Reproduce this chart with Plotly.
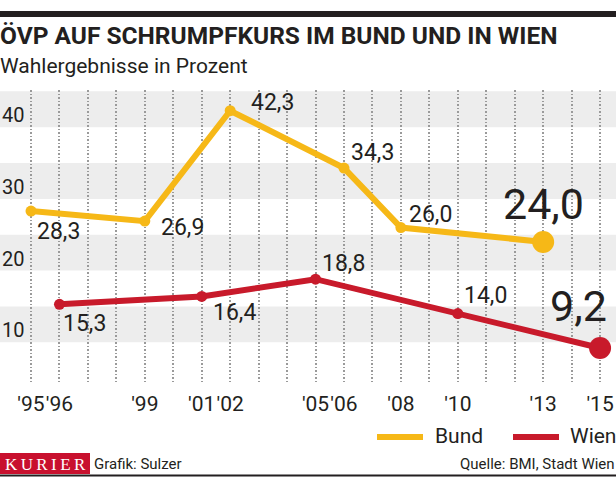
import plotly.graph_objects as go

# ---------------- data ----------------
bund_years = [1995, 1999, 2002, 2006, 2008, 2013]
bund_values = [28.3, 26.9, 42.3, 34.3, 26.0, 24.0]
wien_years = [1996, 2001, 2005, 2010, 2015]
wien_values = [15.3, 16.4, 18.8, 14.0, 9.2]
tick_years = [1995, 1996, 1999, 2001, 2002, 2005, 2006, 2008, 2010, 2013, 2015]
tick_labels = ["'95", "'96", "'99", "'01", "'02", "'05", "'06", "'08", "'10", "'13", "'15"]
y_ticks = [10, 20, 30, 40]
band_edges = [5, 10, 15, 20, 25, 30, 35, 40, 45]

title = "ÖVP AUF SCHRUMPFKURS IM BUND UND IN WIEN"
subtitle = "Wahlergebnisse in Prozent"
source = "Quelle: BMI, Stadt Wien"
credit = "Grafik: Sulzer"

# ---------------- style ----------------
W, H = 616, 477
PT, PB = 90, 382  # plot top/bottom in px
YELLOW = "#F6B817"
RED = "#C81A2B"
TXT = "#231F20"
BAND = "#EDEDED"
FONT = "Roboto, Liberation Sans, sans-serif"


def py(p):
    return (PB - p) / (PB - PT)


def pxx(p):
    return p / W


def fmt(v):
    return f"{v:.1f}".replace(".", ",")


fig = go.Figure()

for name, xs, ys, col in [("Bund", bund_years, bund_values, YELLOW),
                          ("Wien", wien_years, wien_values, RED)]:
    sizes = [11] * (len(xs) - 1) + [22]
    fig.add_trace(go.Scatter(x=xs, y=ys, mode="lines+markers", name=name,
                             line=dict(color=col, width=6),
                             marker=dict(color=col, size=sizes, opacity=1,
                                         line=dict(width=0)),
                             showlegend=False, hoverinfo="x+y"))

# grey bands
shapes = []
for i in range(0, len(band_edges) - 1):
    if i % 2 == 1:
        shapes.append(dict(type="rect", xref="paper", yref="y", x0=0, x1=1,
                           y0=band_edges[i], y1=band_edges[i + 1],
                           fillcolor=BAND, line=dict(width=0), layer="below"))

# top black bar & bottom line
shapes.append(dict(type="rect", xref="paper", yref="paper", x0=0, x1=1,
                   y0=py(17), y1=py(11), fillcolor=TXT, line=dict(width=0)))
shapes.append(dict(type="line", xref="paper", yref="paper", x0=0, x1=1,
                   y0=py(475.5), y1=py(475.5), line=dict(color=TXT, width=2)))
# KURIER box
shapes.append(dict(type="rect", xref="paper", yref="paper", x0=0, x1=pxx(90),
                   y0=py(474), y1=py(453), fillcolor="#C8102E", line=dict(width=0)))
# legend lines
for x0, x1, col in [(377, 423, YELLOW), (513, 559, RED)]:
    shapes.append(dict(type="line", xref="paper", yref="paper", x0=pxx(x0), x1=pxx(x1),
                       y0=py(437), y1=py(437), line=dict(color=col, width=6)))

annotations = []
annotations.append(dict(text=title, xref="paper", yref="paper", x=pxx(-2), y=py(35),
                        xanchor="left", yanchor="middle", showarrow=False,
                        font=dict(family=FONT, size=24.5, color=TXT, weight=700)))
annotations.append(dict(text=subtitle, xref="paper", yref="paper", x=pxx(-2), y=py(66),
                        xanchor="left", yanchor="middle", showarrow=False,
                        font=dict(family=FONT, size=21, color=TXT)))
# legend texts
for x, t in [(433, "Bund"), (568, "Wien")]:
    annotations.append(dict(text=t, xref="paper", yref="paper", x=pxx(x), y=py(436),
                            xanchor="left", yanchor="middle", showarrow=False,
                            font=dict(family=FONT, size=21, color=TXT)))
# footer
annotations.append(dict(text="K\u2009U\u2009R\u2009I\u2009E\u2009R", xref="paper", yref="paper",
                        x=pxx(45), y=py(464), xanchor="center", yanchor="middle",
                        showarrow=False,
                        font=dict(family="Liberation Serif, DejaVu Serif, serif", size=17, color="white")))
annotations.append(dict(text=credit, xref="paper", yref="paper", x=pxx(92), y=py(464),
                        xanchor="left", yanchor="middle", showarrow=False,
                        font=dict(family=FONT, size=15, color=TXT)))
annotations.append(dict(text=source, xref="paper", yref="paper", x=pxx(617), y=py(464),
                        xanchor="right", yanchor="middle", showarrow=False,
                        font=dict(family=FONT, size=15, color=TXT)))

# y tick labels above their gridline value
for v in y_ticks:
    annotations.append(dict(text=str(v), xref="paper", yref="y", x=0, y=v,
                            xanchor="left", yanchor="bottom", showarrow=False, yshift=-2,
                            font=dict(family=FONT, size=20, color=TXT)))

# data labels: (xanchor, xshift, yshift, size)
bund_lab = [("left", 4, -20, 23), ("left", 14, -6, 23), ("left", 19, 8, 23),
            ("left", 5, 16, 23), ("left", 6, 13, 23), ("center", 0, 38, 43)]
wien_lab = [("left", 2, -19, 23), ("left", 9, -16, 23), ("left", 4, 16, 23),
            ("left", 4, 18, 23), ("right", 9, 42, 43)]
for xs, ys, labs in [(bund_years, bund_values, bund_lab), (wien_years, wien_values, wien_lab)]:
    for x, y, (xa, dx, dy, sz) in zip(xs, ys, labs):
        annotations.append(dict(text=fmt(y), x=x, y=y, xref="x", yref="y",
                                xanchor=xa, yanchor="middle", xshift=dx, yshift=dy,
                                showarrow=False,
                                font=dict(family=FONT, size=sz, color=TXT)))

label_map = dict(zip(tick_years, tick_labels))
all_years = list(range(1995, 2016))

fig.update_layout(
    width=W, height=H,
    margin=dict(l=0, r=0, t=PT, b=H - PB),
    paper_bgcolor="white", plot_bgcolor="white",
    shapes=shapes, annotations=annotations,
    xaxis=dict(range=[1993.91, 2015.56], tickvals=all_years,
               ticktext=[label_map.get(y, "") for y in all_years],
               showgrid=True, gridcolor="#9A9A9A", gridwidth=1.5, griddash="1.5px,2px",
               zeroline=False, showline=False, ticks="", ticklabelstandoff=7, tickangle=0,
               tickfont=dict(family=FONT, size=21, color=TXT), fixedrange=True),
    yaxis=dict(range=[4.46, 45.19], showgrid=False, zeroline=False, showline=False,
               showticklabels=False, ticks="", fixedrange=True),
    showlegend=False,
)

fig.write_html("out.html", config={"displayModeBar": False},
               post_script="document.body.style.margin='0';")
